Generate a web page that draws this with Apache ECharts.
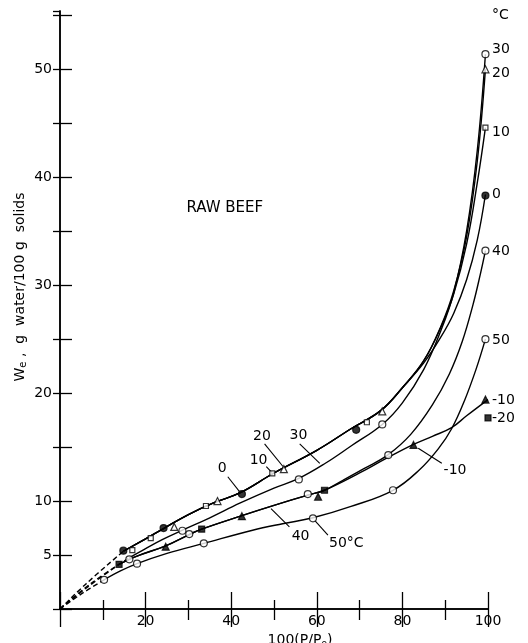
<!DOCTYPE html>
<html><head><meta charset="utf-8">
<script src="https://cdn.jsdelivr.net/npm/echarts@6/dist/echarts.min.js"></script>
<style>html,body{margin:0;padding:0;background:#fff}#c{width:528px;height:643px}</style>
</head><body><div id="c"></div><script>
// ---- curve paths: [100(P/P0), We] ----
const pathA = [[14.8,5.35],[20,6.5],[24.2,7.45],[30,8.75],[36,9.85],[42,10.75],[50,12.6],[60,14.7],[68,16.7],[75,18.4],[80,20.5]];
const tail20 = [[85,23.0],[89,26.2],[92,29.5],[95,34.5],[97.5,41.5],[99.4,50]];
const tail10 = [[85,23.0],[89,26.1],[92,29.2],[95,33.8],[97.5,39.5],[99.4,44.6]];
const tail0  = [[85,22.8],[89,25.2],[92,27.4],[95,30.5],[97.5,34.2],[99.4,38.4]];
const path30 = [[16.2,4.75],[20,5.6],[24,6.45],[28.6,7.3],[35,8.45],[42,9.8],[50,11.2],[55.8,12.1],[62,13.5],[68,15.1],[75.3,17.1],[80,19.1],[85,22.2],[89,25.8],[92,29.3],[95,35],[97.5,42.5],[99.4,51.4]];
const pathC  = [[13.8,4.14],[18,4.9],[24.7,5.85],[30.2,6.9],[33.1,7.4],[42.5,8.65],[50,9.6],[57.9,10.55],[61.8,11.0]];
const tail40 = [[66,11.9],[71,13.0],[76.7,14.3],[82,16.2],[87,18.9],[91,21.8],[94,24.8],[96.5,28.2],[98.2,31],[99.4,33.2]];
const tailM10 = [[70,12.6],[76,13.9],[82.6,15.25],[87,16.0],[91.5,16.8],[95,17.9],[100,19.4]];
const path50 = [[10.3,2.7],[14,3.5],[18,4.2],[25,5.15],[33.6,6.08],[45,7.3],[52,7.9],[59.1,8.45],[68,9.5],[77.8,11.0],[84,12.9],[88.5,14.9],[91.5,16.7],[94.5,19.3],[97.2,22.2],[99.4,25.0]];
// dashed extrapolations to the origin
const dashA  = [[0,0],[6,2.3],[14.8,5.35]];
const dash30 = [[0,0],[7,2.3],[16.2,4.75]];
const dashC  = [[0,0],[6,1.9],[13.8,4.14]];
const dash50 = [[0,0],[5,1.4],[10.3,2.7]];

// ---- measured points ----
const pts0   = [[14.8,5.4],[24.2,7.5],[42.5,10.65],[69.2,16.6],[99.4,38.3]];
const pts10  = [[16.9,5.46],[21.2,6.57],[34.1,9.54],[49.6,12.56],[71.7,17.3],[99.4,44.6]];
const pts20  = [[26.7,7.6],[36.8,10.0],[52.3,12.96],[75.3,18.3],[99.4,50.0]];
const pts30  = [[16.2,4.6],[28.6,7.25],[55.8,12.0],[75.3,17.1],[99.4,51.4]];
const pts40  = [[30.2,6.94],[57.9,10.65],[76.7,14.26],[99.4,33.2]];
const pts50  = [[10.3,2.7],[18,4.2],[33.6,6.08],[59.1,8.4],[77.8,11.0],[99.4,25.0]];
const ptsM10 = [[24.7,5.77],[42.5,8.6],[60.3,10.4],[82.6,15.2],[99.4,19.4]];
const ptsM20 = [[13.8,4.14],[33.1,7.4],[61.8,11.0],[100,17.7]];

// ---- text ----
const yTickLabels = [5,10,20,30,40,50];
const rightLabels = ['°C','30','20','10','0','40','50','-10','-20'];
const rightLabelY = [55.0,51.8,49.6,44.2,38.4,33.1,24.9,19.35,17.7];
const annoText = ['0','10','20','30','40','50°C','-10'];
const annoAt   = [[37.9,13.05],[46.4,13.8],[47.2,16.0],[55.7,16.1],[56.2,6.76],[66.9,6.1],[92.3,12.8]];
const leaderFrom = [[39.2,12.25],[48.2,13.2],[47.8,15.3],[56,15.3],[53.6,7.6],[62.6,6.85],[89.2,13.5]];
const leaderTo   = [[41.9,10.9],[49.6,12.6],[52.1,13.2],[60.7,13.5],[49.3,9.3],[59.5,8.2],[83.7,14.9]];

const INK = '#000';
const FONT = 'DejaVu Sans';

function curve(data, dashed){
  return {type:'line', data, smooth:0.4, symbol:'none', silent:true, clip:false,
    lineStyle:{color:INK, width:1.4, type: dashed ? [5,3] : 'solid'}, z:2, animation:false};
}
function marks(data, symbol, filled, size){
  return {type:'scatter', data, symbol, symbolSize:size, clip:false, silent:true, z:5, animation:false,
    itemStyle:{color: filled ? INK : '#fff', borderColor:INK, borderWidth:1.2}};
}
const txtLabel = {show:true, position:'inside', formatter:'{b}', color:INK, fontSize:14, fontFamily:FONT, textBorderWidth:0, opacity:1};
const series = [
  curve(pathA.concat(tail20)), curve(pathA.concat(tail10)), curve(pathA.concat(tail0)),
  curve(path30), curve(pathC.concat(tail40)), curve(pathC.concat(tailM10)), curve(path50),
  curve(dashA,true), curve(dash30,true), curve(dashC,true), curve(dash50,true),
  marks(pts0,'circle',true,7), marks(pts10,'rect',false,5), marks(pts20,'triangle',false,7),
  marks(pts30,'circle',false,7), marks(pts40,'circle',false,7), marks(pts50,'circle',false,7),
  marks(ptsM10,'triangle',true,7), marks(ptsM20,'rect',true,6)
];
annoText.forEach((t,i)=>{
  series.push({type:'line', data:[leaderFrom[i],leaderTo[i]], symbol:'none', silent:true, animation:false,
    lineStyle:{color:INK,width:1.1}, z:3});
});
series.push({type:'scatter', symbolSize:0, silent:true, animation:false, z:6,
  data: annoText.map((t,i)=>({name:t, value:annoAt[i]})), label:txtLabel});
series.push({type:'scatter', symbolSize:0, silent:true, animation:false, z:6, clip:false,
  data: rightLabels.map((t,i)=>({name:t, value:[100,rightLabelY[i]]})),
  label:Object.assign({}, txtLabel, {position:'right', distance:4})});
series.push({type:'scatter', symbolSize:0, silent:true, animation:false, z:6,
  data:[{name:'RAW BEEF', value:[38.5,37.1]}],
  label:Object.assign({}, txtLabel, {fontSize:15})});

const axisLine = {show:true, lineStyle:{color:INK, width:1.5}};
const chart = echarts.init(document.getElementById('c'), null, {renderer:'canvas'});
chart.setOption({
  animation:false,
  backgroundColor:'#fff',
  grid:{left:60, right:40, top:11, bottom:34},
  xAxis:[
    {type:'value', min:0, max:100, interval:20, position:'bottom', axisLine,
     axisTick:{inside:true, length:17, lineStyle:{color:INK,width:1.3}},
     minorTick:{show:true, splitNumber:2, length:9, lineStyle:{color:INK,width:1.3}},
     splitLine:{show:false}, minorSplitLine:{show:false},
     axisLabel:{margin:5, color:INK, fontSize:14, fontFamily:FONT, formatter:v=> v===0 ? '' : String(v)}},
    {type:'value', min:0, max:100, interval:20, position:'top', axisLine,
     axisTick:{inside:true, length:18, lineStyle:{color:INK,width:1.3}},
     minorTick:{show:true, splitNumber:2, length:11, lineStyle:{color:INK,width:1.3}},
     splitLine:{show:false}, axisLabel:{show:false}}
  ],
  yAxis:[
    {type:'value', min:0, max:55.4, interval:5, position:'left', axisLine,
     axisTick:{inside:true, length:12, lineStyle:{color:INK,width:1.3}},
     splitLine:{show:false},
     axisLabel:{margin:8, color:INK, fontSize:14, fontFamily:FONT, showMaxLabel:false,
       formatter:v=> yTickLabels.includes(v) ? String(v) : ''}},
    {type:'value', min:0, max:55.4, interval:5, position:'right', axisLine,
     axisTick:{inside:true, length:7, lineStyle:{color:INK,width:1.3}},
     splitLine:{show:false}, axisLabel:{show:false}}
  ],
  graphic:[
    {type:'text', x:20, y:287, rotation:Math.PI/2, silent:true,
     style:{text:'W{s|e} ,  g  water/100 g  solids', fill:INK, font:'14px "DejaVu Sans"', align:'center', verticalAlign:'middle',
       rich:{s:{fontSize:10, fontFamily:FONT, fill:INK, verticalAlign:'bottom', padding:[6,0,0,0]}}}},
    {type:'text', x:300, y:632, silent:true,
     style:{text:'100(P/P{s|o})', fill:INK, font:'14px "DejaVu Sans"', align:'center', verticalAlign:'top',
       rich:{s:{fontSize:9, fontFamily:FONT, fill:INK, padding:[7,0,0,0]}}}}
  ],
  series
});
</script></body></html>
